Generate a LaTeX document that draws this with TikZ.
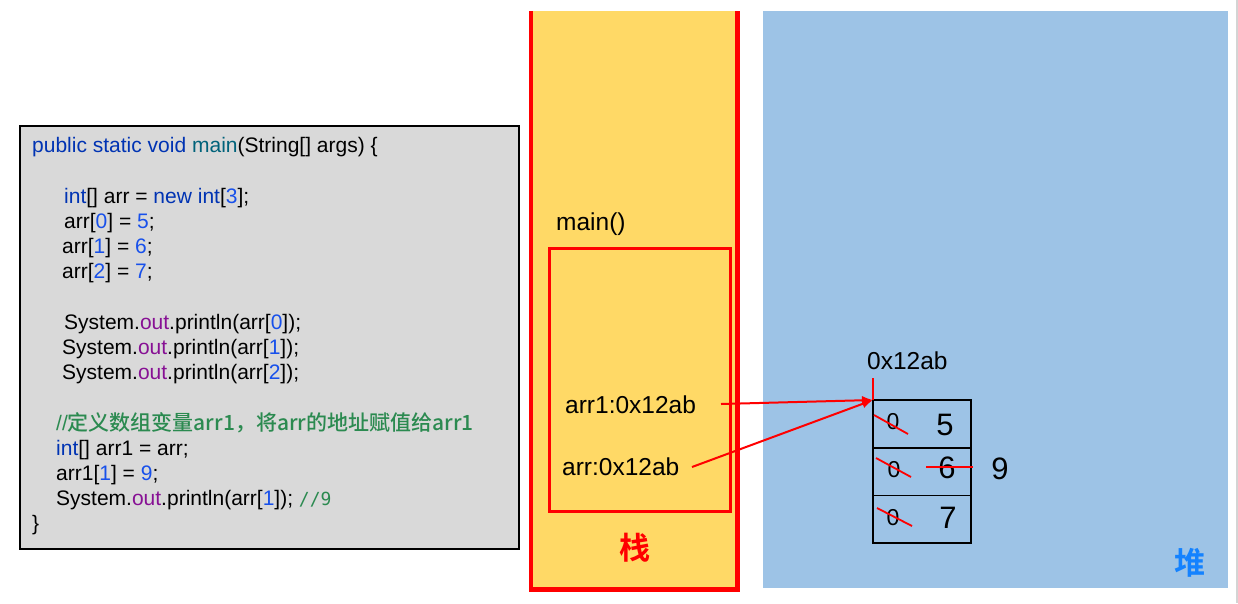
\documentclass[tikz,border=0pt]{standalone}
\usepackage{fontspec}
\setmainfont{Liberation Sans}
\newfontfamily\cjk{Noto Sans CJK SC Medium}
\newfontfamily\cjkb{Noto Sans CJK SC Bold}
\newfontfamily\monof{DejaVu Sans Mono}
\usetikzlibrary{arrows.meta}
\definecolor{kw}{HTML}{0033B3}
\definecolor{fn}{HTML}{00627A}
\definecolor{num}{HTML}{1750EB}
\definecolor{fld}{HTML}{871094}
\definecolor{cmt}{HTML}{2B8A50}
\definecolor{codegray}{HTML}{D9D9D9}
\definecolor{stackyellow}{HTML}{FFD966}
\definecolor{heapblue}{HTML}{9DC3E6}
\definecolor{heaplbl}{HTML}{1482FF}
\definecolor{edgegray}{HTML}{D4D4D4}
\definecolor{myred}{HTML}{FF0000}
\tikzset{
  codeline/.style={anchor=base west, inner sep=0pt, font=\fontsize{21}{25}\selectfont},
  stacktext/.style={anchor=base west, inner sep=0pt, font=\fontsize{24.5}{29}\selectfont},
  cellbox/.style={draw=black, line width=1.6pt, minimum width=98pt, minimum height=47.7pt, inner sep=0pt, outer sep=0pt},
  smallzero/.style={anchor=base, inner sep=0pt, font=\fontsize{23}{27}\selectfont},
  bignum/.style={anchor=base, inner sep=0pt, font=\fontsize{31}{36}\selectfont},
  redline/.style={draw=myred, line width=2pt},
  strike/.style={draw=myred, line width=1.8pt},
  arrowtip/.style={-{Latex[length=11pt,width=9pt]}},
  arealbl/.style={inner sep=0pt, font=\cjkb\fontsize{31}{36}\selectfont},
}
\begin{document}
\begin{tikzpicture}[x=1pt,y=-1pt]
\useasboundingbox (0,0) rectangle (1238,603);
\fill[white] (0,0) rectangle (1238,603);
\draw[edgegray, line width=2pt] (1237,0) -- (1237,603);

% code box
\node[draw=black, fill=codegray, line width=2pt, minimum width=499pt, minimum height=423pt, inner sep=0pt, anchor=north west] (code) at (19,125) {};
\node[codeline] (c1) at (32,152) {\textcolor{kw}{public static void} \textcolor{fn}{main}(String[] args) \{};
\node[codeline] (c3) at (64,203) {\textcolor{kw}{int}[] arr = \textcolor{kw}{new} \textcolor{kw}{int}[\textcolor{num}{3}];};
\node[codeline] (c4) at (64,228) {arr[\textcolor{num}{0}] = \textcolor{num}{5};};
\node[codeline] (c5) at (62,253) {arr[\textcolor{num}{1}] = \textcolor{num}{6};};
\node[codeline] (c6) at (62,278) {arr[\textcolor{num}{2}] = \textcolor{num}{7};};
\node[codeline] (c8) at (64,329) {System.\textcolor{fld}{out}.println(arr[\textcolor{num}{0}]);};
\node[codeline] (c9) at (62,354) {System.\textcolor{fld}{out}.println(arr[\textcolor{num}{1}]);};
\node[codeline] (c10) at (62,379) {System.\textcolor{fld}{out}.println(arr[\textcolor{num}{2}]);};
\node[codeline, text=cmt] (c12) at (56,430) {//{\cjk 定义数组变量arr1，将arr的地址赋值给arr1}};
\node[codeline] (c13) at (56,455) {\textcolor{kw}{int}[] arr1 = arr;};
\node[codeline] (c14) at (56,480) {arr1[\textcolor{num}{1}] = \textcolor{num}{9};};
\node[codeline] (c15) at (56,505) {System.\textcolor{fld}{out}.println(arr[\textcolor{num}{1}]); \textcolor{cmt}{\monof\fontsize{18}{20}\selectfont //9}};
\node[codeline] (c16) at (32,530) {\}};

% stack
\fill[stackyellow] (531,11) rectangle (737.5,589.5);
\draw[myred, line width=4.5pt] (531,11) -- (531,589.5) -- (737.5,589.5) -- (737.5,11);
\node[stacktext] (mainlbl) at (556,230) {main()};
\node[draw=myred, line width=2.5pt, minimum width=181pt, minimum height=263pt, inner sep=0pt, anchor=north west] (frame) at (548,247) {};
\node[stacktext] (arr1lbl) at (565,413) {arr1:0x12ab};
\node[stacktext] (arrlbl) at (562,475) {arr:0x12ab};
\node[arealbl, text=myred] (stacklbl) at (635,548) {栈};

% heap
\fill[heapblue] (763,11) rectangle (1228,588);
\node[arealbl, text=heaplbl] (heaplbl) at (1190,563) {堆};

\node[cellbox, anchor=north west] (cell0) at (873,400) {};
\node[cellbox, anchor=north west] (cell1) at (873,447.7) {};
\node[cellbox, anchor=north west] (cell2) at (873,495.4) {};

\node[stacktext] (addr) at (867,369) {0x12ab};
\coordinate (addrtop) at (873,378);
\draw[redline] (addrtop) -- (cell0.north west);

\node[smallzero] (z0) at (893,429) {0};
\node[smallzero] (z1) at (894,477) {0};
\node[smallzero] (z2) at (893,525) {0};
\node[bignum] (v5) at (945,435) {5};
\node[bignum] (v6) at (947,478) {6};
\node[bignum] (v7) at (948,528) {7};
\node[bignum] (v9) at (1000,479) {9};

\draw[strike] (874,415) -- (908,434);
\draw[strike] (876,458) -- (911,477);
\draw[strike] (877,508) -- (912,526);
\draw[strike] (926,467) -- (973,467);

% arrows
\coordinate (a1start) at (721,404);
\coordinate (a2start) at (692,467);
\draw[redline, arrowtip] (a1start) -- (cell0.north west);
\draw[redline, arrowtip] (a2start) -- (cell0.north west);
\end{tikzpicture}
\end{document}
